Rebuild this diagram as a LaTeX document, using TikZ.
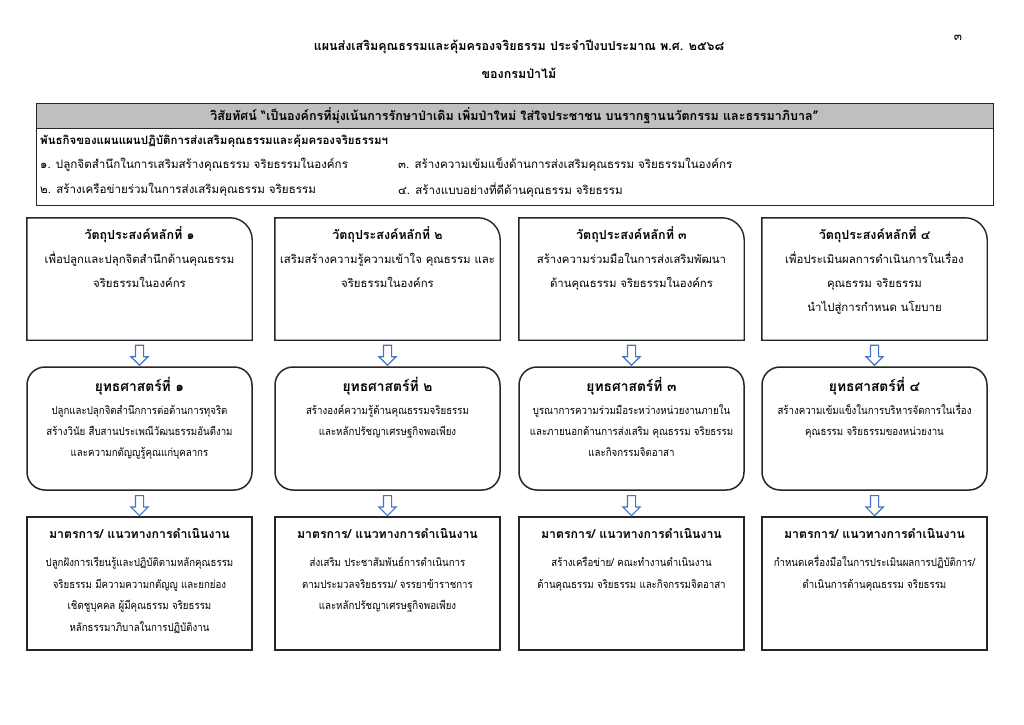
\documentclass[tikz,border=0pt]{standalone}
\usepackage{fontspec}
\setmainfont[Script=Thai]{Loma}
\newfontfamily\narrowthai[Script=Thai,FakeStretch=0.88]{Loma}
\usepackage{xcolor}
\definecolor{arrowblue}{HTML}{4472C4}
\definecolor{visiongray}{HTML}{BFBFBF}
\definecolor{frame}{HTML}{262626}
\usepackage{tikz}
\usetikzlibrary{positioning,shapes.arrows}
\tikzset{
  titletext/.style={font=\fontsize{12.5}{16}\selectfont\bfseries,inner sep=0pt},
  linetext/.style ={font=\fontsize{11.6}{16}\selectfont,anchor=west,inner sep=0pt},
  objbox/.style   ={minimum width=225pt,minimum height=122pt,inner sep=0pt},
  objline/.style  ={draw=frame,line width=1.4pt},
  objtext/.style  ={font=\fontsize{11.4}{24}\selectfont,align=center,inner sep=0pt},
  stratbox/.style ={draw=frame,line width=1.5pt,rounded corners=18pt,
                    minimum width=225pt,minimum height=123pt},
  strattext/.style={font=\narrowthai\fontsize{11}{21}\selectfont,align=center,inner sep=0pt},
  measbox/.style  ={draw=frame,line width=1.2pt,minimum width=225pt,minimum height=133pt},
  meastext/.style ={font=\narrowthai\fontsize{11}{21.7}\selectfont,align=center,inner sep=0pt},
  downarrow/.style={single arrow,draw=arrowblue,fill=white,line width=1.2pt,
                    shape border rotate=270,minimum height=20pt,
                    single arrow head extend=4.5pt,inner sep=3.5pt},
}
\newcommand{\objframe}[1]{%
  \draw[objline] (#1.south west) -- (#1.north west) -- ([xshift=-22pt]#1.north east)
    .. controls ([xshift=-10pt]#1.north east) and ([yshift=-10pt]#1.north east)
    .. ([yshift=-22pt]#1.north east) -- (#1.south east) -- cycle;}
\newcommand{\meashead}{{\rmfamily\fontsize{12.3}{16}\selectfont\bfseries มาตรการ/ แนวทางการดำเนินงาน}}
\newcommand{\objhead}[1]{{\fontsize{12.5}{16}\selectfont\bfseries วัตถุประสงค์หลักที่ #1}}
\newcommand{\strathead}[1]{{\rmfamily\fontsize{13.8}{16}\selectfont\bfseries ยุทธศาสตร์ที่ #1}}

\begin{document}
\begin{tikzpicture}[x=1pt,y=-1pt]
\useasboundingbox[fill=white] (0,0) rectangle (1024,724);
% heading
\node[font=\fontsize{12}{14}\selectfont,inner sep=0pt] (pageno) at (958,38) {๓};
\node[titletext] (title) at (519,47) {แผนส่งเสริมคุณธรรมและคุ้มครองจริยธรรม ประจำปีงบประมาณ พ.ศ. ๒๕๖๘};
\node[titletext] (title2) at (519,73) {ของกรมป่าไม้};
% vision and mission
\node[draw=frame,fill=visiongray,line width=0.9pt,minimum width=957pt,minimum height=25pt,
  font=\fontsize{12.5}{16}\selectfont\bfseries] (vision) at (514.5,115.5)
  {วิสัยทัศน์ “เป็นองค์กรที่มุ่งเน้นการรักษาป่าเดิม เพิ่มป่าใหม่ ใส่ใจประชาชน บนรากฐานนวัตกรรม และธรรมาภิบาล”};
\node[draw=frame,line width=0.9pt,minimum width=957pt,minimum height=77pt,anchor=north] (mission) at (vision.south) {};
\node[linetext,font=\fontsize{11.5}{16}\selectfont\bfseries] (mhead) at (40,141)
  {พันธกิจของแผนแผนปฏิบัติการส่งเสริมคุณธรรมและคุ้มครองจริยธรรมฯ};
\node[linetext] (m1) at (40,165) {๑. ปลูกจิตสำนึกในการเสริมสร้างคุณธรรม จริยธรรมในองค์กร};
\node[linetext] (m2) at (40,190) {๒. สร้างเครือข่ายร่วมในการส่งเสริมคุณธรรม จริยธรรม};
\node[linetext] (m3) at (398,165) {๓. สร้างความเข้มแข็งด้านการส่งเสริมคุณธรรม จริยธรรมในองค์กร};
\node[linetext] (m4) at (398,190) {๔. สร้างแบบอย่างที่ดีด้านคุณธรรม จริยธรรม};
% objectives
\node[objbox] (o1) at (139.5,279) {};
\node[objbox] (o2) at (387.5,279) {};
\node[objbox] (o3) at (631.5,279) {};
\node[objbox] (o4) at (874.5,279) {};
\objframe{o1} \objframe{o2} \objframe{o3} \objframe{o4}
\node[objtext,below=9pt of o1.north] (o1t) {\objhead{๑}\\
  เพื่อปลูกและปลุกจิตสำนึกด้านคุณธรรม\\ จริยธรรมในองค์กร};
\node[objtext,below=9pt of o2.north] (o2t) {\objhead{๒}\\
  เสริมสร้างความรู้ความเข้าใจ คุณธรรม และ\\ จริยธรรมในองค์กร};
\node[objtext,below=9pt of o3.north] (o3t) {\objhead{๓}\\
  สร้างความร่วมมือในการส่งเสริมพัฒนา\\ ด้านคุณธรรม จริยธรรมในองค์กร};
\node[objtext,below=9pt of o4.north] (o4t) {\objhead{๔}\\
  เพื่อประเมินผลการดำเนินการในเรื่อง\\ คุณธรรม จริยธรรม\\ นำไปสู่การกำหนด นโยบาย};
% strategies
\node[stratbox] (s1) at (139.5,428.5) {};
\node[stratbox] (s2) at (387.5,428.5) {};
\node[stratbox] (s3) at (631.5,428.5) {};
\node[stratbox] (s4) at (874.5,428.5) {};
\node[strattext,below=11pt of s1.north] (s1t) {\strathead{๑}\\[2pt]
  ปลูกและปลุกจิตสำนึกการต่อต้านการทุจริต\\ สร้างวินัย สืบสานประเพณีวัฒนธรรมอันดีงาม\\ และความกตัญญูรู้คุณแก่บุคลากร};
\node[strattext,below=11pt of s2.north] (s2t) {\strathead{๒}\\[2pt]
  สร้างองค์ความรู้ด้านคุณธรรมจริยธรรม\\ และหลักปรัชญาเศรษฐกิจพอเพียง};
\node[strattext,below=11pt of s3.north] (s3t) {\strathead{๓}\\[2pt]
  บูรณาการความร่วมมือระหว่างหน่วยงานภายใน\\ และภายนอกด้านการส่งเสริม คุณธรรม จริยธรรม\\ และกิจกรรมจิตอาสา};
\node[strattext,below=11pt of s4.north] (s4t) {\strathead{๔}\\[2pt]
  สร้างความเข้มแข็งในการบริหารจัดการในเรื่อง\\ คุณธรรม จริยธรรมของหน่วยงาน};
% measures
\node[measbox] (g1) at (139.5,583.5) {};
\node[measbox] (g2) at (387.5,583.5) {};
\node[measbox] (g3) at (631.5,583.5) {};
\node[measbox] (g4) at (874.5,583.5) {};
\node[meastext,below=12pt of g1.north] (g1t) {\meashead\\[6pt]
  ปลูกฝังการเรียนรู้และปฏิบัติตามหลักคุณธรรม\\ จริยธรรม มีความความกตัญญู และยกย่อง\\
  เชิดชูบุคคล ผู้มีคุณธรรม จริยธรรม\\ หลักธรรมาภิบาลในการปฏิบัติงาน};
\node[meastext,below=12pt of g2.north] (g2t) {\meashead\\[6pt]
  ส่งเสริม ประชาสัมพันธ์การดำเนินการ\\ ตามประมวลจริยธรรม/ จรรยาข้าราชการ\\ และหลักปรัชญาเศรษฐกิจพอเพียง};
\node[meastext,below=12pt of g3.north] (g3t) {\meashead\\[6pt]
  สร้างเครือข่าย/ คณะทำงานดำเนินงาน\\ ด้านคุณธรรม จริยธรรม และกิจกรรมจิตอาสา};
\node[meastext,below=12pt of g4.north] (g4t) {\meashead\\[6pt]
  กำหนดเครื่องมือในการประเมินผลการปฏิบัติการ/\\ ดำเนินการด้านคุณธรรม จริยธรรม};
% arrows
\path (o1.south) -- node[downarrow]{} (s1.north);
\path (o2.south) -- node[downarrow]{} (s2.north);
\path (o3.south) -- node[downarrow]{} (s3.north);
\path (o4.south) -- node[downarrow]{} (s4.north);
\path (s1.south) -- node[downarrow]{} (g1.north);
\path (s2.south) -- node[downarrow]{} (g2.north);
\path (s3.south) -- node[downarrow]{} (g3.north);
\path (s4.south) -- node[downarrow]{} (g4.north);
\end{tikzpicture}
\end{document}
